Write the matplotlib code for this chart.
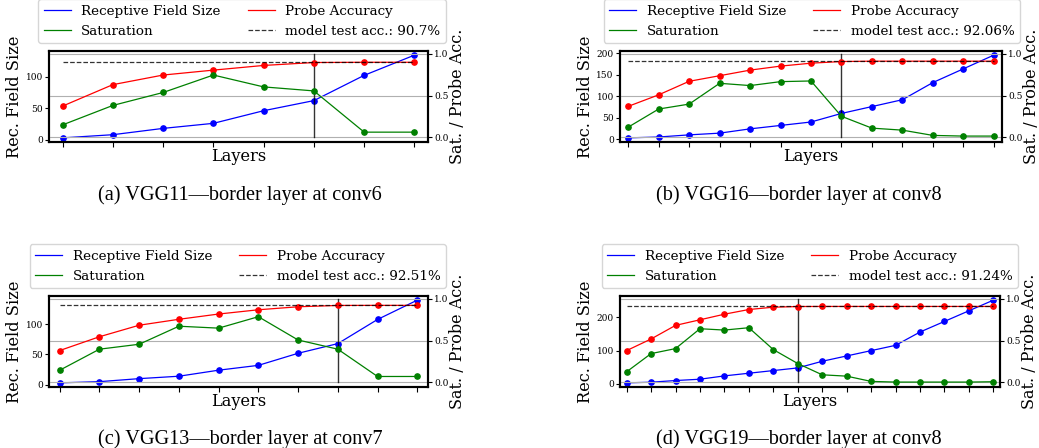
import matplotlib
matplotlib.use("Agg")
import matplotlib.pyplot as plt
from matplotlib.lines import Line2D
import numpy as np

# ---------------- data ----------------
titles = ["(a) VGG11\u2014border layer at conv6",
          "(b) VGG16\u2014border layer at conv8",
          "(c) VGG13\u2014border layer at conv7",
          "(d) VGG19\u2014border layer at conv8"]
test_acc = [0.907, 0.9206, 0.9251, 0.9124]
border_idx = [5, 7, 7, 7]

rf_vgg11 = [3, 8, 18, 26, 46, 62, 102, 134]
rf_vgg16 = [3, 5, 10, 14, 24, 32, 40, 60, 76, 92, 132, 164, 196]
rf_vgg13 = [3, 5, 10, 14, 24, 32, 52, 68, 108, 140]
rf_vgg19 = [3, 5, 10, 14, 24, 32, 40, 48, 68, 84, 100, 116, 156, 188, 220, 252]

acc_vgg11 = [0.375, 0.632, 0.747, 0.806, 0.862, 0.897, 0.900, 0.900]
acc_vgg16 = [0.372, 0.510, 0.672, 0.739, 0.806, 0.854, 0.889, 0.909, 0.913, 0.913, 0.913, 0.913, 0.913]
acc_vgg13 = [0.382, 0.547, 0.685, 0.756, 0.819, 0.870, 0.906, 0.922, 0.923, 0.923]
acc_vgg19 = [0.381, 0.520, 0.683, 0.750, 0.817, 0.873, 0.901, 0.909, 0.910, 0.910,
             0.910, 0.910, 0.910, 0.910, 0.910, 0.910]

sat_vgg11 = [0.150, 0.383, 0.538, 0.747, 0.605, 0.557, 0.063, 0.063]
sat_vgg16 = [0.123, 0.340, 0.399, 0.648, 0.621, 0.668, 0.676, 0.253, 0.111, 0.087, 0.024, 0.016, 0.016]
sat_vgg13 = [0.146, 0.398, 0.457, 0.673, 0.650, 0.787, 0.508, 0.398, 0.071, 0.071]
sat_vgg19 = [0.127, 0.345, 0.405, 0.643, 0.627, 0.655, 0.393, 0.226, 0.091, 0.075,
             0.012, 0.004, 0.004, 0.004, 0.004, 0.008]

rfs = [rf_vgg11, rf_vgg16, rf_vgg13, rf_vgg19]
accs = [acc_vgg11, acc_vgg16, acc_vgg13, acc_vgg19]
sats = [sat_vgg11, sat_vgg16, sat_vgg13, sat_vgg19]

# ---------------- layout ----------------
W, H = 1039, 448
fig = plt.figure(figsize=(W / 100, H / 100), dpi=100)
plt.rcParams['font.family'] = ['DejaVu Serif']

# axes boxes in pixels: left, right, top, bottom
boxes = [(49, 428, 51, 142), (620, 1002, 51, 142),
         (49, 428, 296, 387), (620, 1000, 296, 387)]
caption_xy = [(240, 200), (799, 200), (240, 444), (799, 444)]

for i in range(4):
    l, r, t, b = boxes[i]
    ax1 = fig.add_axes([l / W, (H - b) / H, (r - l) / W, (b - t) / H])
    ax2 = ax1.twinx()
    rf = rfs[i]
    acc = accs[i]
    sat = sats[i]
    n = len(rf)
    x = np.arange(n)

    ax2.grid(True, axis='y', color='#b0b0b0', lw=0.8)
    ax2.plot(x, acc, color='red', lw=0.9, marker='o', ms=3.8, zorder=3)
    ax2.plot(x, sat, color='green', lw=0.9, marker='o', ms=3.8, zorder=3)
    ax2.plot([x[0], x[-1]], [test_acc[i], test_acc[i]], color='black', ls='--',
             lw=0.9, alpha=0.8, zorder=4)
    ax2.plot([x[border_idx[i]]] * 2, [0, 1], color='black', lw=1.0, alpha=0.8, zorder=2)
    ax1.plot(x, rf, color='blue', lw=0.9, marker='o', ms=3.8, zorder=3)

    ax1.set_xlim(-0.27, n - 1 + 0.27)
    ax2.set_ylim(-0.055, 1.035)
    ax2.set_yticks([0.0, 0.5, 1.0])
    ax1.set_xticks(x)
    ax1.tick_params(axis='x', labelbottom=False, length=3.5)
    ax1.tick_params(axis='y', labelsize=6.5, pad=1.5, length=3)
    ax2.tick_params(axis='y', labelsize=6.5, pad=1.5, length=3)
    for ax in (ax1, ax2):
        for s in ax.spines.values():
            s.set_linewidth(1.5)
    ax1.set_xlabel("Layers", fontsize=11.7, labelpad=1)
    ax1.set_ylabel("Rec. Field Size", fontsize=11.7, labelpad=2)
    ax2.set_ylabel("Sat. / Probe Acc.", fontsize=11.5, labelpad=0)

    pct = f"{test_acc[i] * 100:.2f}".rstrip('0').rstrip('.')
    handles = [Line2D([], [], color='blue', lw=0.9),
               Line2D([], [], color='green', lw=0.9),
               Line2D([], [], color='red', lw=0.9),
               Line2D([], [], color='black', ls='--', lw=0.9, alpha=0.8)]
    labels = ["Receptive Field Size", "Saturation", "Probe Accuracy",
              f"model test acc.: {pct}%"]
    ax2.legend(handles, labels, ncol=2, loc='lower right',
               bbox_to_anchor=(1.0 + 18 / (r - l), 1.0 + 8 / (b - t)), fontsize=9.7,
               borderaxespad=0.0)

    cx, cy = caption_xy[i]
    fig.text(cx / W, (H - cy) / H, titles[i], ha='center', va='baseline',
             fontsize=14.6, family='Liberation Serif')

fig.savefig("out.png", dpi=100)
